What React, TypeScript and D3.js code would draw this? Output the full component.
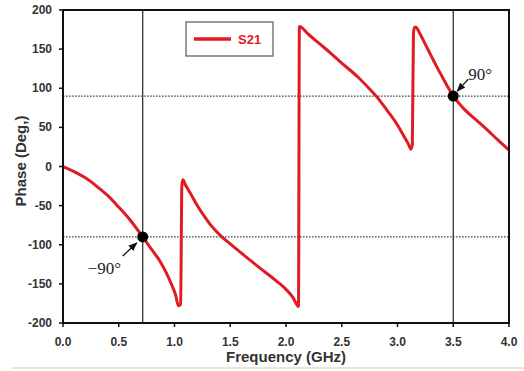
import React from "react";
import * as d3 from "d3";

const freq = [
  0, 0.1, 0.2, 0.3, 0.4, 0.5, 0.6, 0.715, 0.8, 0.87, 0.93, 0.98, 1.01, 1.035,
  1.055, 1.066, 1.075, 1.1, 1.15, 1.2, 1.26, 1.32, 1.41, 1.5, 1.62, 1.75, 1.92, 2.0, 2.06, 2.1,
  2.112, 2.12, 2.2, 2.3, 2.4, 2.5, 2.64, 2.75, 2.82, 2.9, 3.0, 3.06, 3.1, 3.12,
  3.133, 3.143, 3.152, 3.165, 3.2, 3.25, 3.3, 3.35, 3.4, 3.45, 3.5, 3.55, 3.6, 3.71, 3.8, 3.9, 4.0,
];
const phase = [
  0, -6.5, -14.5, -25, -37, -52, -68, -90, -107, -121, -137, -153, -164, -178,
  -176, -24, -17, -24, -36, -49, -62, -74, -88, -99, -113, -128, -147, -157, -167, -177,
  -179, 179, 169, 157, 145, 132, 115, 99, 88, 73, 53, 38, 28, 22,
  28, 170, 178, 178, 170, 156, 142, 128, 115, 102, 90, 81, 73, 59, 47.5, 34, 21,
];
const xTicks = [0, 0.5, 1.0, 1.5, 2.0, 2.5, 3.0, 3.5, 4.0];
const yTicks = [-200, -150, -100, -50, 0, 50, 100, 150, 200];
const refPhases = [90, -90];
const markerFreqs = [0.715, 3.5];
const markerPhases = [-90, 90];
const markerLabels = ["\u221290\u00b0", "90\u00b0"];

export default function App() {
  const W = 524, H = 371;
  const left = 63, right = 509, top = 10, bottom = 323;
  const x = d3.scaleLinear().domain([0, 4]).range([left, right]);
  const y = d3.scaleLinear().domain([-200, 200]).range([bottom, top]);
  const pts = freq.map((f, i) => [f, phase[i]] as [number, number]);
  const line = d3
    .line<[number, number]>()
    .x((d) => x(d[0]))
    .y((d) => y(d[1]))
    .curve(d3.curveMonotoneX);
  const red = "#e01b22";
  const sans = "'Liberation Sans', Arial, sans-serif";
  const serif = "'Liberation Serif', 'Times New Roman', serif";

  const m0x = x(markerFreqs[0]), m0y = y(markerPhases[0]);
  const m1x = x(markerFreqs[1]), m1y = y(markerPhases[1]);

  return (
    <svg
      width={W}
      height={H}
      style={{ position: "absolute", left: 0, top: 0, background: "#fff" }}
    >
      <defs>
        <marker id="ah" viewBox="0 0 10 10" refX="9" refY="5" markerWidth="7" markerHeight="7" orient="auto">
          <path d="M0,1 L10,5 L0,9 Z" fill="#111" />
        </marker>
      </defs>
      <rect x={0} y={0} width={W} height={H} fill="#fff" />
      <rect x={12} y={367} width={W - 12} height={2} fill="#e4e4e4" />

      {refPhases.map((p) => (
        <line key={p} x1={left} x2={right} y1={y(p)} y2={y(p)} stroke="#444" strokeWidth={1.2} strokeDasharray="1.6,1.4" />
      ))}
      {markerFreqs.map((f) => (
        <line key={f} x1={x(f)} x2={x(f)} y1={top} y2={bottom} stroke="#222" strokeWidth={1.2} />
      ))}

      <path d={line(pts) || ""} fill="none" stroke={red} strokeWidth={3} strokeLinejoin="round" />

      <rect x={left} y={top} width={right - left} height={bottom - top} fill="none" stroke="#111" strokeWidth={2} />

      {xTicks.map((t) => (
        <g key={t}>
          <line x1={x(t)} x2={x(t)} y1={bottom} y2={bottom + 4} stroke="#111" strokeWidth={1.5} />
          <text x={x(t)} y={346} textAnchor="middle" fontFamily={sans} fontWeight="bold" fontSize={12} fill="#333">
            {t.toFixed(1)}
          </text>
        </g>
      ))}
      {yTicks.map((t) => (
        <g key={t}>
          <line x1={left - 4} x2={left} y1={y(t)} y2={y(t)} stroke="#111" strokeWidth={1.5} />
          <text x={52} y={y(t) + 4} textAnchor="end" fontFamily={sans} fontWeight="bold" fontSize={12} fill="#333">
            {t}
          </text>
        </g>
      ))}

      <text x={(left + right) / 2} y={362} textAnchor="middle" fontFamily={sans} fontWeight="bold" fontSize={15} fill="#333">
        Frequency (GHz)
      </text>
      <text
        transform={`translate(26,161) rotate(-90)`}
        textAnchor="middle"
        fontFamily={sans}
        fontWeight="bold"
        fontSize={15}
        fill="#333"
      >
        Phase (Deg,)
      </text>

      <rect x={186} y={22} width={87} height={34} fill="#fff" stroke="#666" strokeWidth={1.3} />
      <line x1={194} x2={231} y1={39} y2={39} stroke={red} strokeWidth={3.5} />
      <text x={238} y={44} fontFamily={sans} fontWeight="bold" fontSize={13} fill={red}>
        S21
      </text>

      <circle cx={m0x} cy={m0y} r={5.5} fill="#000" />
      <circle cx={m1x} cy={m1y} r={5.5} fill="#000" />
      <line x1={m0x - 20} y1={m0y + 19} x2={m0x - 6} y2={m0y + 6} stroke="#111" strokeWidth={1.3} markerEnd="url(#ah)" />
      <line x1={m1x + 15} y1={m1y - 17} x2={m1x + 4} y2={m1y - 5} stroke="#111" strokeWidth={1.3} markerEnd="url(#ah)" />
      <text x={m0x - 55} y={m0y + 37} fontFamily={serif} fontSize={17} fill="#222">
        {markerLabels[0]}
      </text>
      <text x={m1x + 15} y={m1y - 16} fontFamily={serif} fontSize={17} fill="#222">
        {markerLabels[1]}
      </text>
    </svg>
  );
}
